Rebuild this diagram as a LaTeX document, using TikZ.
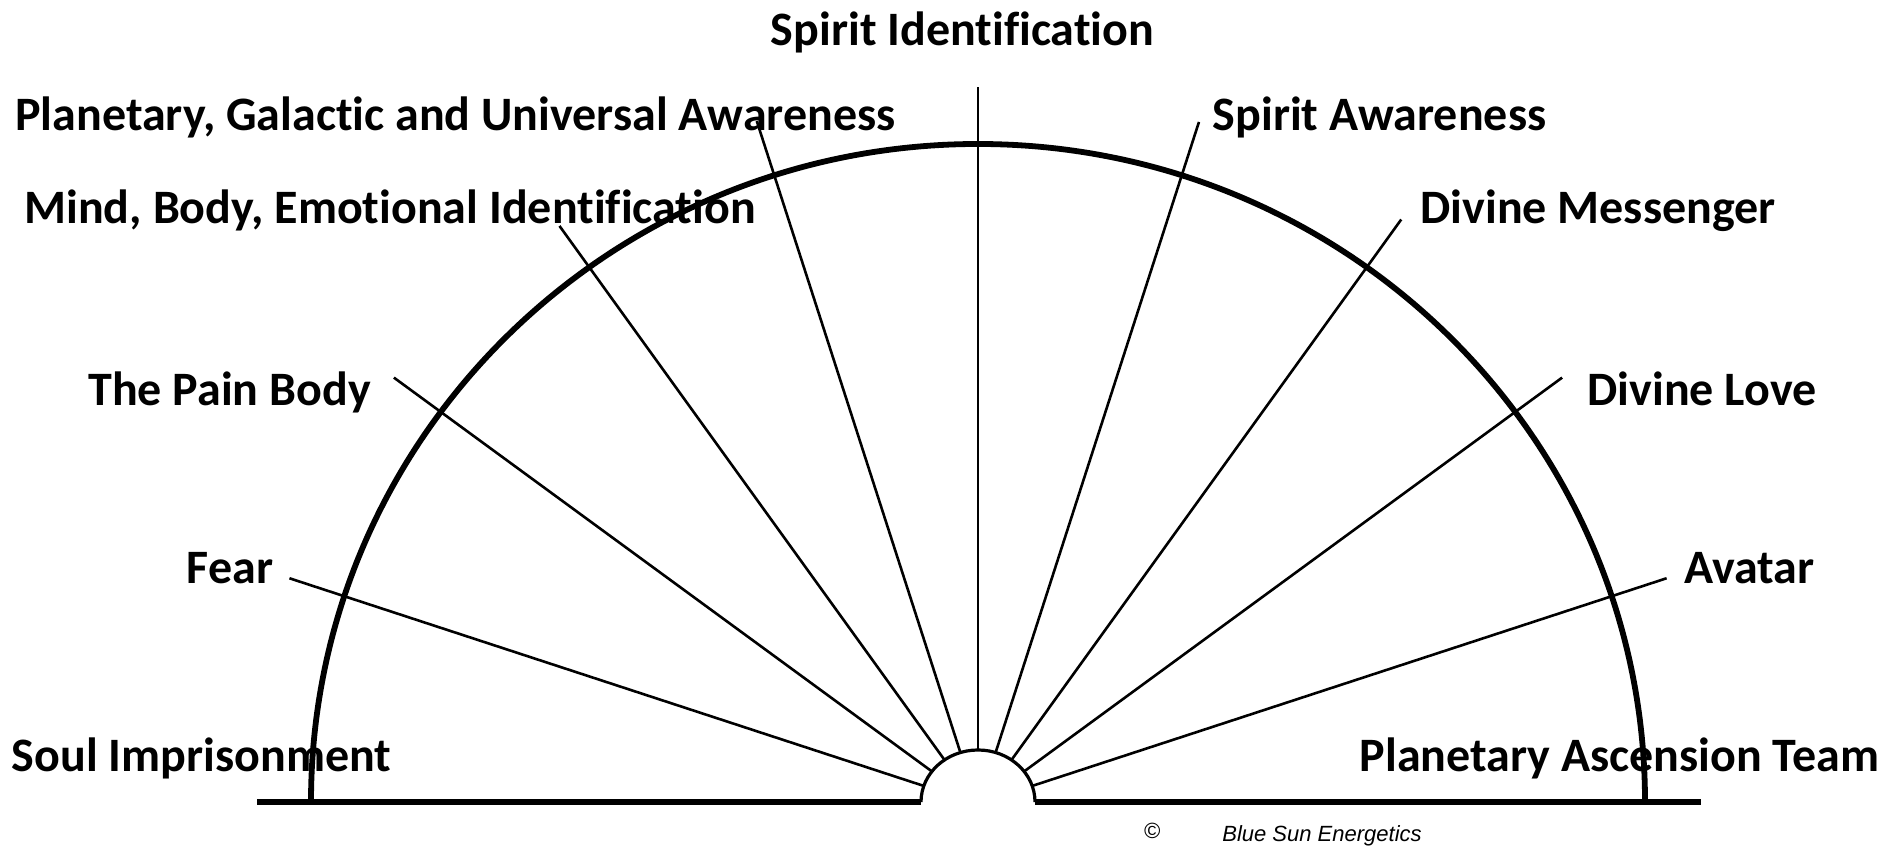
\documentclass[tikz,border=0pt]{standalone}
\usepackage{fontspec}
\setmainfont{Carlito}[Ligatures=NoCommon]
\newfontfamily\creditfont{Liberation Sans}

\begin{document}
\begin{tikzpicture}[
  x=0.5pt, y=0.5pt,
  lbl/.style   ={font=\fontsize{24}{28}\selectfont\bfseries, inner sep=0pt, anchor=base},
  credit/.style={font=\creditfont\fontsize{11}{13}\selectfont\itshape, inner sep=0pt, anchor=base},
  rim/.style   ={line width=2.9pt},
  ground/.style={line width=2.8pt},
  hub/.style   ={line width=1.6pt},
  ray/.style   ={line width=1.3pt},
]
  \useasboundingbox (0,0) rectangle (1904,849);

  % --- centre and ground line ---
  \coordinate (o)    at (978,47);
  \coordinate (gl)   at (257,47);
  \coordinate (gr)   at (1701,47);
  \coordinate (hubl) at (921,47);
  \coordinate (hubr) at (1035,47);
  \coordinate (riml) at (311,47);

  \draw[ground] (gl) -- (hubl);
  \draw[ground] (hubr) -- (gr);

  % --- arcs ---
  \draw[hub] (hubr) arc[start angle=0, end angle=180, x radius=57, y radius=52];
  \draw[rim] (riml) arc[start angle=180, end angle=0, x radius=667, y radius=658];

  % --- rays, every 18 degrees ---
  \foreach \ang/\len in {18/724,36/722,54/720,72/715,90/715,108/716,126/712,144/722,162/724}
    \draw[ray] ([shift={(\ang:57 and 52)}]o) -- ([shift={(\ang:\len)}]o);

  % --- labels ---
  \node[lbl] (spid) at (962.5,803) {Spirit Identification};
  \node[lbl] (pgu)  at (455.5,718) {Planetary, Galactic and Universal Awareness};
  \node[lbl] (mbe)  at (390,625)   {Mind, Body, Emotional Identification};
  \node[lbl] (pain) at (229.5,443) {The Pain Body};
  \node[lbl] (fear) at (230,265)   {Fear};
  \node[lbl] (soul) at (201.5,77)  {Soul Imprisonment};
  \node[lbl] (spaw) at (1379.5,718) {Spirit Awareness};
  \node[lbl] (dmes) at (1598,625)  {Divine Messenger};
  \node[lbl] (dlov) at (1702,443)  {Divine Love};
  \node[lbl] (avat) at (1749.5,265) {Avatar};
  \node[lbl] (pat)  at (1619.5,77) {Planetary Ascension Team};

  % --- credit ---
  \node[credit] (copy) at (1152,10) {©};
  \node[credit] (bse)  at (1322,7)  {Blue Sun Energetics};
\end{tikzpicture}
\end{document}
